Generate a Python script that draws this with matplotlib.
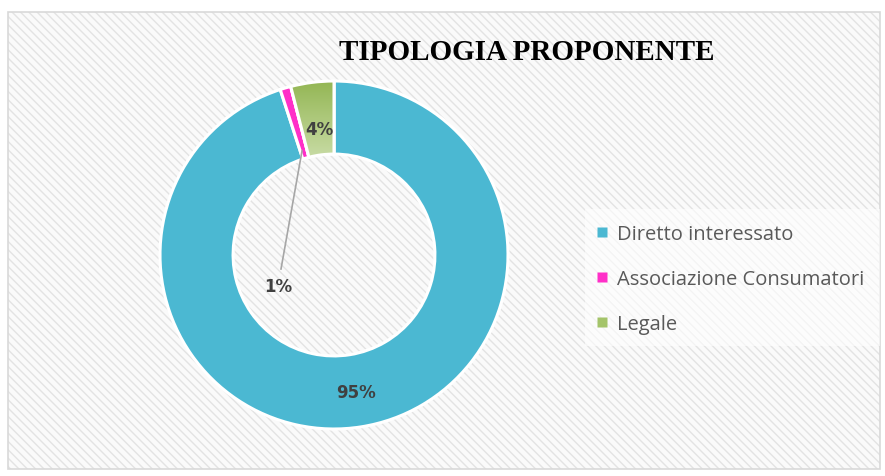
import matplotlib
matplotlib.use("Agg")
import matplotlib.pyplot as plt
import numpy as np
from matplotlib.patches import Rectangle
from matplotlib.lines import Line2D
from matplotlib.colors import LinearSegmentedColormap

categories = ["Diretto interessato", "Associazione Consumatori", "Legale"]
values = [95, 1, 4]
labels = ["95%", "1%", "4%"]
colors = ["#4BB8D2", "#FF2FC8", "#A4C46A"]
title = "TIPOLOGIA PROPONENTE"

W, H = 885, 477
fig = plt.figure(figsize=(W / 100, H / 100), dpi=100)
fig.patch.set_facecolor("white")

# background panel with diagonal hatching
bg = Rectangle((8 / W, 1 - 470 / H), (880 - 8) / W, (470 - 13) / H, transform=fig.transFigure,
               facecolor="#FAFAFA", edgecolor="#E3E3E3", hatch="\\\\\\\\", linewidth=0, zorder=-2)
fig.patches.append(bg)
border = Rectangle((8 / W, 1 - 470 / H), (880 - 8) / W, (470 - 13) / H, transform=fig.transFigure,
                   facecolor="none", edgecolor="#D9D9D9", linewidth=1.2, zorder=-1)
fig.patches.append(border)
# legend box
lb = Rectangle((585 / W, 1 - 347 / H), (880 - 585) / W, (347 - 210) / H, transform=fig.transFigure,
               facecolor="white", edgecolor="none", alpha=0.6, zorder=-1)
fig.patches.append(lb)

# donut axes: center (334, 256), outer radius 174
R = 174
cx, cy = 334, 256
ax = fig.add_axes([(cx - R) / W, 1 - (cy + R) / H, 2 * R / W, 2 * R / H])
ax.set_zorder(2)
ax.patch.set_visible(False)
ax.set_aspect("equal")
ax.axis("off")
wedges, _ = ax.pie(values, colors=colors, startangle=90, counterclock=False,
                   radius=1.0, wedgeprops=dict(width=0.42, edgecolor="white", linewidth=2.2))
ax.set_xlim(-1, 1)
ax.set_ylim(-1, 1)

# gradient fill for the green wedge
gw = wedges[2]
cmap = LinearSegmentedColormap.from_list("g", ["#C9DCA6", "#93B653"])
grad = np.linspace(0, 1, 256).reshape(-1, 1)
im = ax.imshow(grad, extent=[-0.3, 0.05, 0.55, 1.0], origin="lower", cmap=cmap,
               aspect="auto", zorder=gw.get_zorder() + 0.1)
im.set_clip_path(gw)
gw2 = plt.matplotlib.patches.PathPatch(gw.get_path(), facecolor="none", edgecolor="white",
                                        lw=2.2, transform=gw.get_transform(), zorder=gw.get_zorder() + 0.2)
ax.add_patch(gw2)
ax.set_xlim(-1, 1)
ax.set_ylim(-1, 1)

def px(x, y):
    return ((x - cx) / R, (cy - y) / R)

lab_font = dict(fontsize=12, fontweight="bold", color="#404040", family="DejaVu Sans",
                ha="center", va="center", zorder=10)
ax.text(*px(356, 393), labels[0], **lab_font)
ax.text(*px(278, 287), labels[1], **lab_font)
ax.text(*px(319, 130), labels[2], **lab_font)
x0, y0 = px(302, 152)
x1, y1 = px(281, 270)
ax.plot([x0, x1], [y0, y1], color="#A6A6A6", lw=1.2, zorder=9)

fig.text(527 / W, 1 - 52 / H, title, fontsize=21, fontweight="bold", family="Liberation Serif",
         ha="center", va="center", color="black")

handles = [Line2D([0], [0], marker="s", linestyle="none", markersize=7,
                  markerfacecolor=c, markeredgecolor="none") for c in colors]
leg = fig.legend(handles, categories, loc="upper left", bbox_to_anchor=(584 / W, 1 - 217 / H),
                 frameon=False, handletextpad=0.25, labelspacing=1.25, handlelength=1.0,
                 borderaxespad=0, prop=dict(family="Open Sans", size=14.5))
for t in leg.get_texts():
    t.set_color("#595959")

fig.savefig("out.png", dpi=100)
